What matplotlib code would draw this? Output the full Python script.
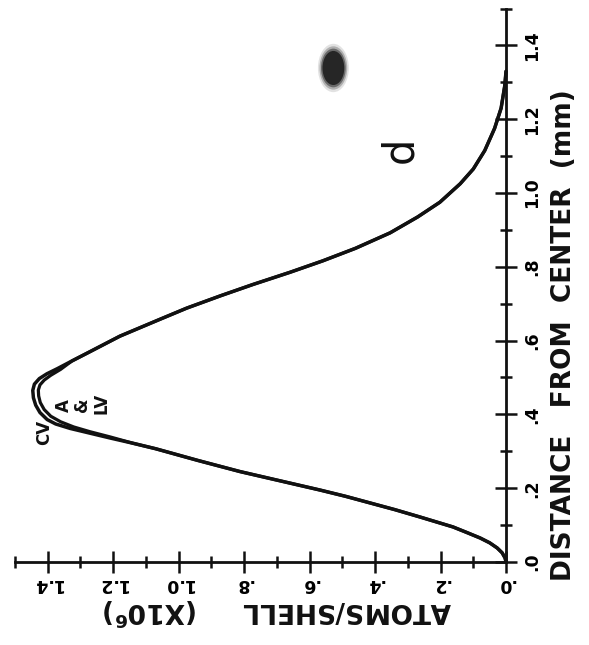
import matplotlib
matplotlib.use("Agg")
import matplotlib.pyplot as plt
from matplotlib.ticker import FixedLocator, MultipleLocator
from matplotlib.patches import Ellipse

# Radial profile: distance from center (mm) vs atoms per shell (x10^6)
distance_cv = [0.000, 0.011, 0.025, 0.038, 0.052, 0.065, 0.080, 0.095, 0.122,
               0.142, 0.160, 0.178, 0.195, 0.220, 0.245, 0.275, 0.307, 0.322,
               0.336, 0.349, 0.362, 0.374, 0.386, 0.405, 0.425, 0.445, 0.465,
               0.482, 0.497, 0.510, 0.524, 0.545, 0.566, 0.612, 0.658, 0.688,
               0.722, 0.752, 0.785, 0.816, 0.850, 0.892, 0.935, 0.975, 1.025,
               1.065, 1.115, 1.175, 1.230, 1.290, 1.330]
atoms_cv = [0.000, 0.003, 0.012, 0.027, 0.050, 0.079, 0.120, 0.162, 0.263,
            0.340, 0.415, 0.490, 0.568, 0.690, 0.812, 0.940, 1.070, 1.140,
            1.209, 1.270, 1.331, 1.375, 1.401, 1.423, 1.436, 1.443, 1.445,
            1.440, 1.425, 1.402, 1.370, 1.325, 1.279, 1.179, 1.056, 0.975,
            0.870, 0.773, 0.660, 0.560, 0.460, 0.354, 0.270, 0.202, 0.140,
            0.100, 0.065, 0.035, 0.015, 0.004, 0.000]

distance_alv = [0.000, 0.011, 0.025, 0.038, 0.052, 0.065, 0.080, 0.095, 0.122,
                0.142, 0.160, 0.178, 0.195, 0.220, 0.245, 0.275, 0.307, 0.322,
                0.339, 0.353, 0.366, 0.380, 0.395, 0.413, 0.432, 0.450, 0.466,
                0.480, 0.493, 0.506, 0.522, 0.545, 0.566, 0.612, 0.658, 0.688,
                0.722, 0.752, 0.785, 0.816, 0.850, 0.892, 0.935, 0.975, 1.025,
                1.065, 1.115, 1.175, 1.230, 1.290, 1.330]
atoms_alv = [0.000, 0.003, 0.012, 0.027, 0.050, 0.079, 0.120, 0.162, 0.263,
             0.340, 0.415, 0.490, 0.568, 0.690, 0.812, 0.940, 1.070, 1.140,
             1.209, 1.270, 1.320, 1.360, 1.390, 1.410, 1.422, 1.427, 1.428,
             1.423, 1.410, 1.390, 1.360, 1.325, 1.279, 1.179, 1.056, 0.975,
             0.870, 0.773, 0.660, 0.560, 0.460, 0.354, 0.270, 0.202, 0.140,
             0.100, 0.065, 0.035, 0.015, 0.004, 0.000]

atom_ticks = [0.0, 0.2, 0.4, 0.6, 0.8, 1.0, 1.2, 1.4]
atom_labels = [".0", ".2", ".4", ".6", ".8", "1.0", "1.2", "1.4"]
dist_ticks = [0.0, 0.2, 0.4, 0.6, 0.8, 1.0, 1.2, 1.4]
dist_labels = [".0", ".2", ".4", ".6", ".8", "1.0", "1.2", "1.4"]

INK = "#111111"
plt.rcParams["font.family"] = ["DejaVu Sans"]
plt.rcParams["font.weight"] = "bold"

fig = plt.figure(figsize=(5.89, 6.45), dpi=100)
fig.patch.set_facecolor("white")

# The sheet is turned a quarter: atoms run right-to-left along the bottom,
# distance runs upward along the right-hand axis.
ax = fig.add_axes([0.02504, 0.1287, 0.8341, 0.8581])
ax.set_xlim(1.5, 0.0)
ax.set_ylim(0.0, 1.5)
ax.set_facecolor("none")

ax.plot(atoms_cv, distance_cv, color=INK, lw=2.5, solid_capstyle="round",
        solid_joinstyle="round", clip_on=False)
ax.plot(atoms_alv, distance_alv, color=INK, lw=2.3, solid_capstyle="round",
        solid_joinstyle="round", clip_on=False)

for side in ("left", "top"):
    ax.spines[side].set_visible(False)
for side in ("bottom", "right"):
    ax.spines[side].set_linewidth(2.0)
    ax.spines[side].set_color(INK)

ax.yaxis.set_ticks_position("right")
ax.xaxis.set_ticks_position("bottom")

ax.xaxis.set_major_locator(FixedLocator(atom_ticks))
ax.xaxis.set_minor_locator(MultipleLocator(0.1))
ax.yaxis.set_major_locator(FixedLocator(dist_ticks))
ax.yaxis.set_minor_locator(MultipleLocator(0.1))
ax.set_xticklabels(atom_labels)
ax.set_yticklabels(dist_labels)

ax.tick_params(which="both", direction="inout", color=INK, width=1.8)
ax.tick_params(which="major", length=16.5)
ax.tick_params(which="minor", length=8.5)
ax.tick_params(axis="x", which="major", pad=1, labelsize=12.5)
ax.tick_params(axis="y", which="major", pad=4, labelsize=12.5)

for lbl in ax.get_xticklabels():
    lbl.set_rotation(180)
    lbl.set_ha("center")
    lbl.set_va("top")
    lbl.set_fontweight("bold")
for lbl in ax.get_yticklabels():
    lbl.set_rotation(90)
    lbl.set_ha("left")
    lbl.set_va("center")
    lbl.set_fontweight("bold")

# Axis titles
ax.text(0.534, -0.090, "ATOMS/SHELL     (X10$^{\\mathbf{6}}$)",
        transform=ax.transAxes, rotation=180, ha="center", va="center",
        fontsize=19, fontweight="bold", color=INK)
ax.text(1.118, 0.41, "DISTANCE   FROM  CENTER  (mm)",
        transform=ax.transAxes, rotation=90, ha="center", va="center",
        fontsize=19, fontweight="bold", color=INK)

# Curve labels and panel letter
ax.text(1.411, 0.352, "CV", rotation=90, ha="center", va="center",
        fontsize=12, fontweight="bold", color=INK)
ax.text(1.350, 0.425, "A", rotation=90, ha="center", va="center",
        fontsize=12, fontweight="bold", color=INK)
ax.text(1.295, 0.425, "&", rotation=90, ha="center", va="center",
        fontsize=12, fontweight="bold", color=INK)
ax.text(1.235, 0.431, "LV", rotation=90, ha="center", va="center",
        fontsize=12, fontweight="bold", color=INK)
ax.text(0.324, 1.117, "d", rotation=90, ha="center", va="center",
        fontsize=30, fontweight="normal", color=INK)

# Ink spot on the sheet, soft edged
for scale, alpha in ((1.25, 0.12), (1.12, 0.25), (1.0, 0.45), (0.88, 0.8)):
    fig.patches.append(Ellipse((0.566, 0.8946), 0.042 * scale, 0.060 * scale,
                               transform=fig.transFigure, color="#151515",
                               alpha=alpha, lw=0))

fig.savefig("out.png", dpi=100, facecolor="white")
